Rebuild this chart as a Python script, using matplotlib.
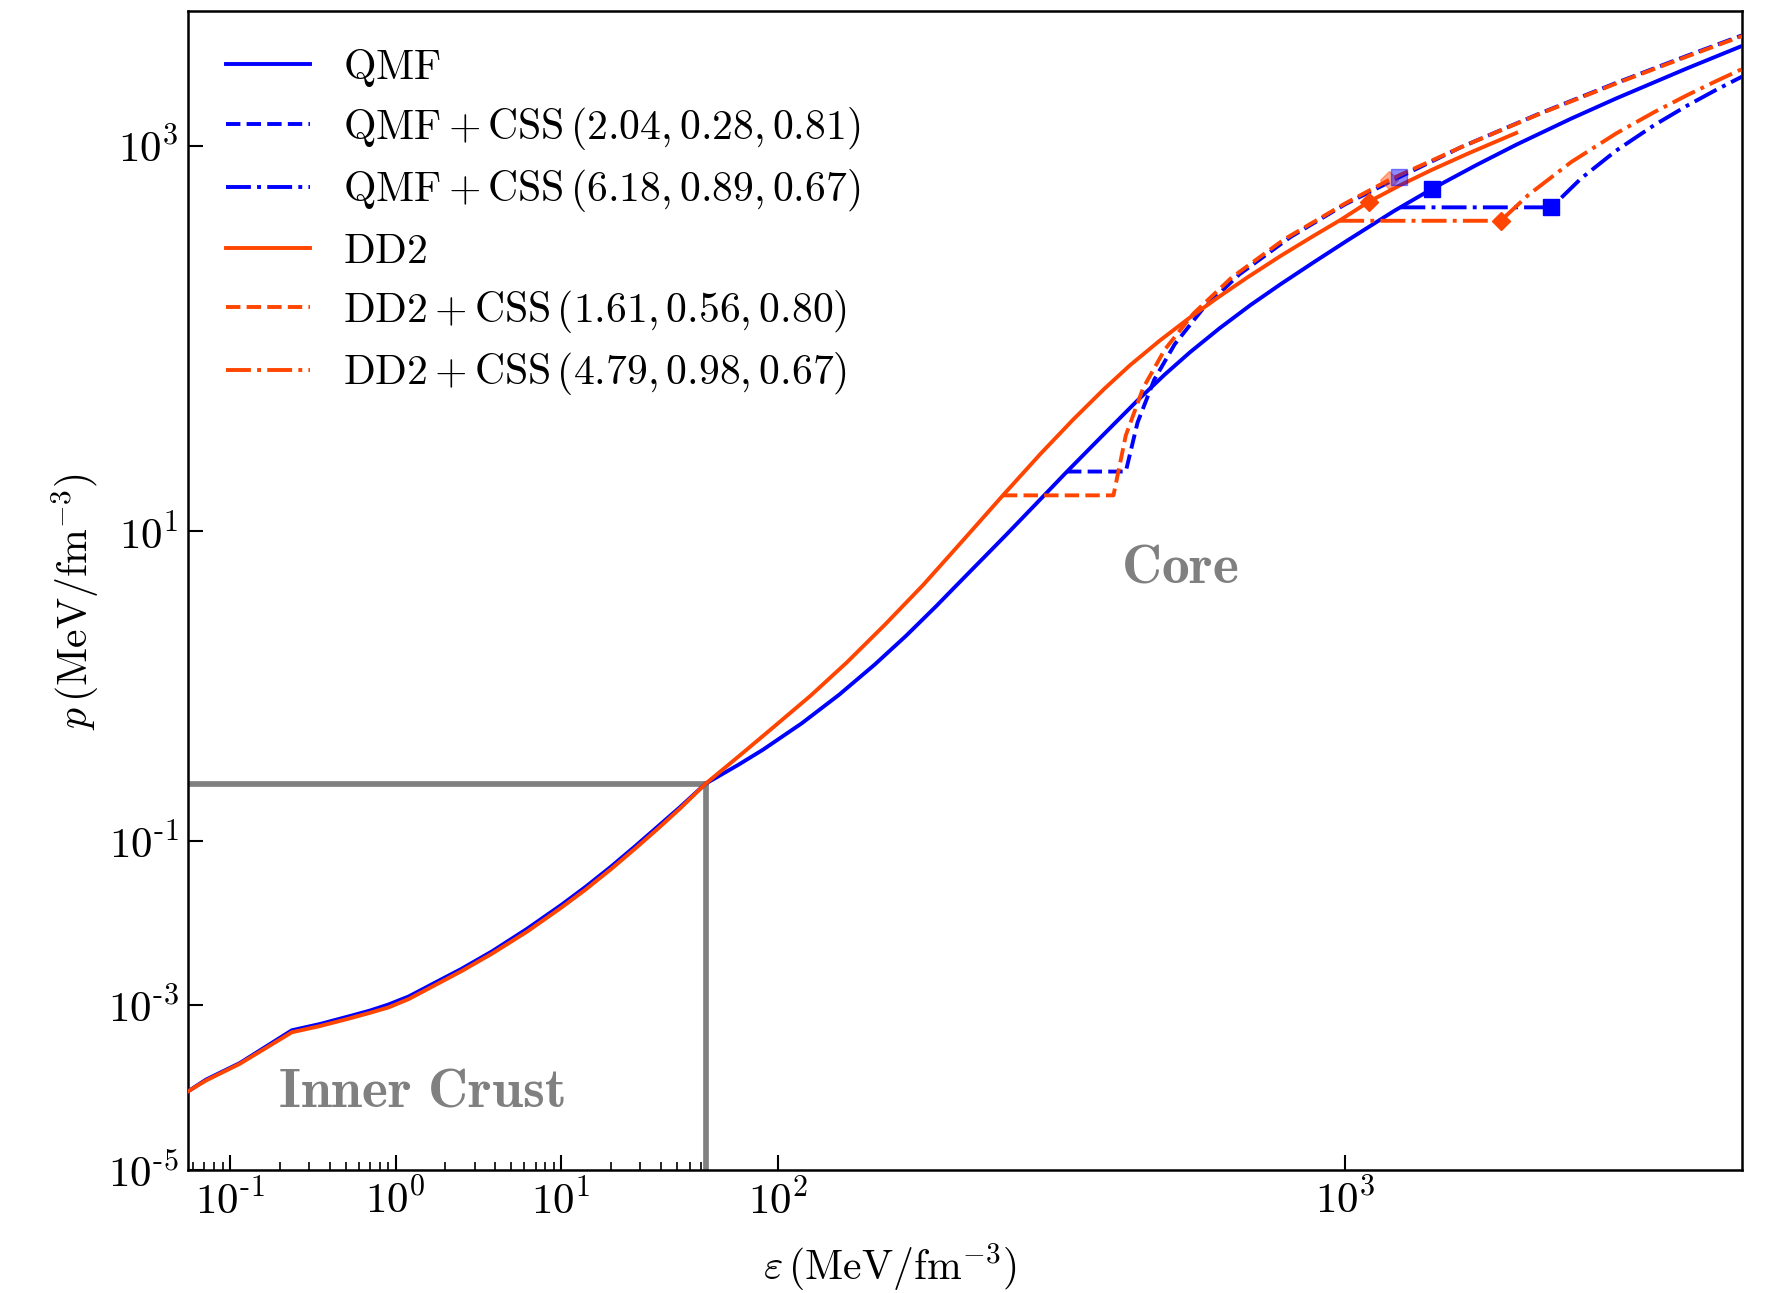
import numpy as np
import matplotlib
matplotlib.use("Agg")
import matplotlib.pyplot as plt
from matplotlib.ticker import FixedLocator, FixedFormatter

plt.rcParams['mathtext.fontset'] = 'cm'
plt.rcParams['font.family'] = 'serif'

# ---- data (eps in MeV/fm^3, p in MeV/fm^3) ----
qmf_eps = [0.0557, 0.0715, 0.1146, 0.236, 0.35, 0.523, 0.7, 0.903, 1.2, 1.64, 2.5, 3.83,
           6.2, 10, 14, 20, 28, 38, 52, 74.5,
           85, 94, 110, 128, 148, 168, 190, 206, 230, 253, 285, 323, 370, 429, 480, 532,
           600, 680, 768, 880, 1007, 1217, 1422, 1700, 2000, 2500, 3000, 4000, 5000]
qmf_p = [9.0e-5, 1.25e-4, 1.99e-4, 4.97e-4, 5.93e-4, 7.35e-4, 8.63e-4, 1.02e-3, 1.28e-3, 1.78e-3, 2.77e-3, 4.53e-3,
         8.45e-3, 0.0165, 0.0273, 0.0483, 0.0855, 0.146, 0.253, 0.49,
         0.613, 0.735, 1.007, 1.416, 2.034, 2.864, 4.09, 5.22, 7.26, 9.66, 13.9, 20.4, 30.6, 47.4, 64.9, 84.8,
         113, 149, 191, 249, 322, 458, 598, 793, 1012, 1383, 1759, 2520, 3294]

dd2_eps = [0.0557, 0.0715, 0.1146, 0.236, 0.35, 0.523, 0.7, 0.903, 1.2, 1.64, 2.5, 3.83,
           6.2, 10, 14, 20, 28, 38, 52, 74.5,
           86, 98, 114, 132, 154, 180, 212, 249, 290, 331, 375, 417, 470, 532, 600, 671,
           770, 879, 980, 1099, 1250, 1420, 1650, 2000]
dd2_p = [9.0e-5, 1.22e-4, 1.95e-4, 4.7e-4, 5.6e-4, 6.9e-4, 8.1e-4, 9.4e-4, 1.19e-3, 1.66e-3, 2.6e-3, 4.25e-3,
         7.8e-3, 0.0153, 0.0253, 0.045, 0.080, 0.137, 0.243, 0.49,
         0.695, 0.96, 1.40, 2.08, 3.26, 5.25, 9.0, 15.35, 25.2, 37.9, 54.5, 72.6, 97.2, 128.5, 165.5, 207,
         269, 341, 412, 512, 625, 750, 915, 1165]

qmf_css1_eps = [323, 410, 430, 460, 500, 560, 650, 800, 1000, 1242, 1600, 2200, 3000, 4000, 5000]
qmf_css1_p = [20.4, 20.4, 36.6, 61, 93.3, 142, 215, 336, 498, 685, 984, 1470, 2118, 2928, 3738]

qmf_css2_eps = [1250, 2307, 2600, 3000, 3500, 4000, 4500, 5000]
qmf_css2_p = [479, 479, 675, 943, 1278, 1613, 1948, 2283]

dd2_css1_eps = [249, 390, 410, 440, 480, 540, 630, 780, 1000, 1193, 1600, 2200, 3000, 4000, 5000]
dd2_css1_p = [15.35, 15.35, 31.4, 55.4, 87.4, 135, 207, 327, 503, 664, 983, 1463, 2103, 2903, 3703]

dd2_css2_eps = [975, 1878, 2100, 2500, 3000, 3500, 4000, 4500, 5000]
dd2_css2_p = [408, 408, 555, 823, 1158, 1493, 1828, 2163, 2498]

# maximum-mass points
qmf_max = (1422, 598)
qmf_css2_max = (2307, 479)
dd2_max = (1099, 512)
dd2_css2_max = (1878, 408)
qmf_css1_max = (1242, 685)
dd2_css1_max = (1193, 664)

labels = [r'$\mathrm{QMF}$',
          r'$\mathrm{QMF} + \mathrm{CSS}\,(2.04, 0.28, 0.81)$',
          r'$\mathrm{QMF} + \mathrm{CSS}\,(6.18, 0.89, 0.67)$',
          r'$\mathrm{DD2}$',
          r'$\mathrm{DD2} + \mathrm{CSS}\,(1.61, 0.56, 0.80)$',
          r'$\mathrm{DD2} + \mathrm{CSS}\,(4.79, 0.98, 0.67)$']

xtick_vals = [0.1, 1, 10, 100, 1000]
xtick_text = [r'$10^{\text{-}1}$', r'$10^{0}$', r'$10^{1}$', r'$10^{2}$', r'$10^{3}$']
ytick_vals = [1e-5, 1e-3, 1e-1, 10, 1000]
ytick_text = [r'$10^{\text{-}5}$', r'$10^{\text{-}3}$', r'$10^{\text{-}1}$', r'$10^{1}$', r'$10^{3}$']

eps_crust = 74.5   # crust-core boundary
p_crust = 0.49

# ---- piecewise log scales (crust part compressed) ----
RX = 165.3 / 566.4
RY = 82.3 / 192.6
bx = np.log10(eps_crust)
by = np.log10(p_crust)


def fwd_x(x):
    l = np.log10(np.clip(x, 1e-12, None))
    return np.where(l < bx, (l - bx) * RX, l - bx)


def inv_x(v):
    v = np.asarray(v, dtype=float)
    return 10 ** np.where(v < 0, v / RX + bx, v + bx)


def fwd_y(y):
    l = np.log10(np.clip(y, 1e-12, None))
    return np.where(l < by, (l - by) * RY, l - by)


def inv_y(v):
    v = np.asarray(v, dtype=float)
    return 10 ** np.where(v < 0, v / RY + by, v + by)


blue = '#0000ff'
red = '#ff4500'
lw = 2.8

fig = plt.figure(figsize=(17.73, 12.93), dpi=100)
ax = fig.add_axes([188 / 1773, 1 - 1170 / 1293, 1554 / 1773, 1159 / 1293])
ax.set_xscale('function', functions=(fwd_x, inv_x))
ax.set_yscale('function', functions=(fwd_y, inv_y))

ax.plot(qmf_eps, qmf_p, color=blue, lw=lw, label=labels[0], zorder=3)
ax.plot(qmf_css1_eps, qmf_css1_p, color=blue, lw=lw, ls='--', label=labels[1], zorder=3)
ax.plot(qmf_css2_eps, qmf_css2_p, color=blue, lw=lw, ls='-.', label=labels[2], zorder=3)
ax.plot(dd2_eps, dd2_p, color=red, lw=lw, label=labels[3], zorder=3)
ax.plot(dd2_css1_eps, dd2_css1_p, color=red, lw=lw, ls='--', label=labels[4], zorder=3)
ax.plot(dd2_css2_eps, dd2_css2_p, color=red, lw=lw, ls='-.', label=labels[5], zorder=3)

ax.plot(*dd2_css1_max, marker='D', color=red, ms=9.5, alpha=0.45, ls='none', zorder=4)
ax.plot(*qmf_css1_max, marker='s', color=blue, ms=11, alpha=0.45, ls='none', zorder=4)
ax.plot(*qmf_max, marker='s', color=blue, ms=11, ls='none', zorder=4)
ax.plot(*qmf_css2_max, marker='s', color=blue, ms=11, ls='none', zorder=4)
ax.plot(*dd2_max, marker='D', color=red, ms=9.5, ls='none', zorder=4)
ax.plot(*dd2_css2_max, marker='D', color=red, ms=9.5, ls='none', zorder=4)

# crust boundary
ax.plot([0.0557, eps_crust], [p_crust, p_crust], color='gray', lw=4.1, zorder=2)
ax.plot([eps_crust, eps_crust], [1e-5, p_crust], color='gray', lw=4.1, zorder=2)

ax.set_xlim(0.0557, 5000)
ax.set_ylim(1e-5, 5000)

ax.xaxis.set_major_locator(FixedLocator(xtick_vals))
ax.xaxis.set_major_formatter(FixedFormatter(xtick_text))
xmin_ticks = [k * 10.0 ** n for n in range(-2, 2) for k in range(2, 10)]
xmin_ticks = [t for t in xmin_ticks if 0.0557 < t < eps_crust]
ax.xaxis.set_minor_locator(FixedLocator(xmin_ticks))
ax.xaxis.set_minor_formatter(FixedFormatter([''] * len(xmin_ticks)))

ax.yaxis.set_major_locator(FixedLocator(ytick_vals))
ax.yaxis.set_major_formatter(FixedFormatter(ytick_text))
ax.yaxis.set_minor_locator(FixedLocator([]))

ax.tick_params(which='major', direction='in', length=11, width=1.5, labelsize=31, pad=7)
ax.tick_params(which='minor', direction='in', length=6, width=1.2)
for s in ax.spines.values():
    s.set_linewidth(1.8)

ax.set_xlabel(r'$\varepsilon\,(\mathrm{MeV/fm^{-3}})$', fontsize=30)
ax.set_ylabel(r'$p\,(\mathrm{MeV/fm^{-3}})$', fontsize=30)
ax.xaxis.set_label_coords(0.452, -0.062)
ax.yaxis.set_label_coords(-0.056, 0.49)

ax.text(0.638, 0.520, r'$\mathbf{Core}$', color='gray', fontsize=40,
        ha='center', va='center', transform=ax.transAxes)
ax.text(0.150, 0.068, r'$\mathbf{Inner\ Crust}$', color='gray', fontsize=40,
        ha='center', va='center', transform=ax.transAxes)

ax.legend(loc='upper left', bbox_to_anchor=(0.0, 1.003), frameon=False, fontsize=30,
          handlelength=2.0, handletextpad=0.8, labelspacing=0.377, borderaxespad=0.52)

fig.savefig('out.png', dpi=100)
